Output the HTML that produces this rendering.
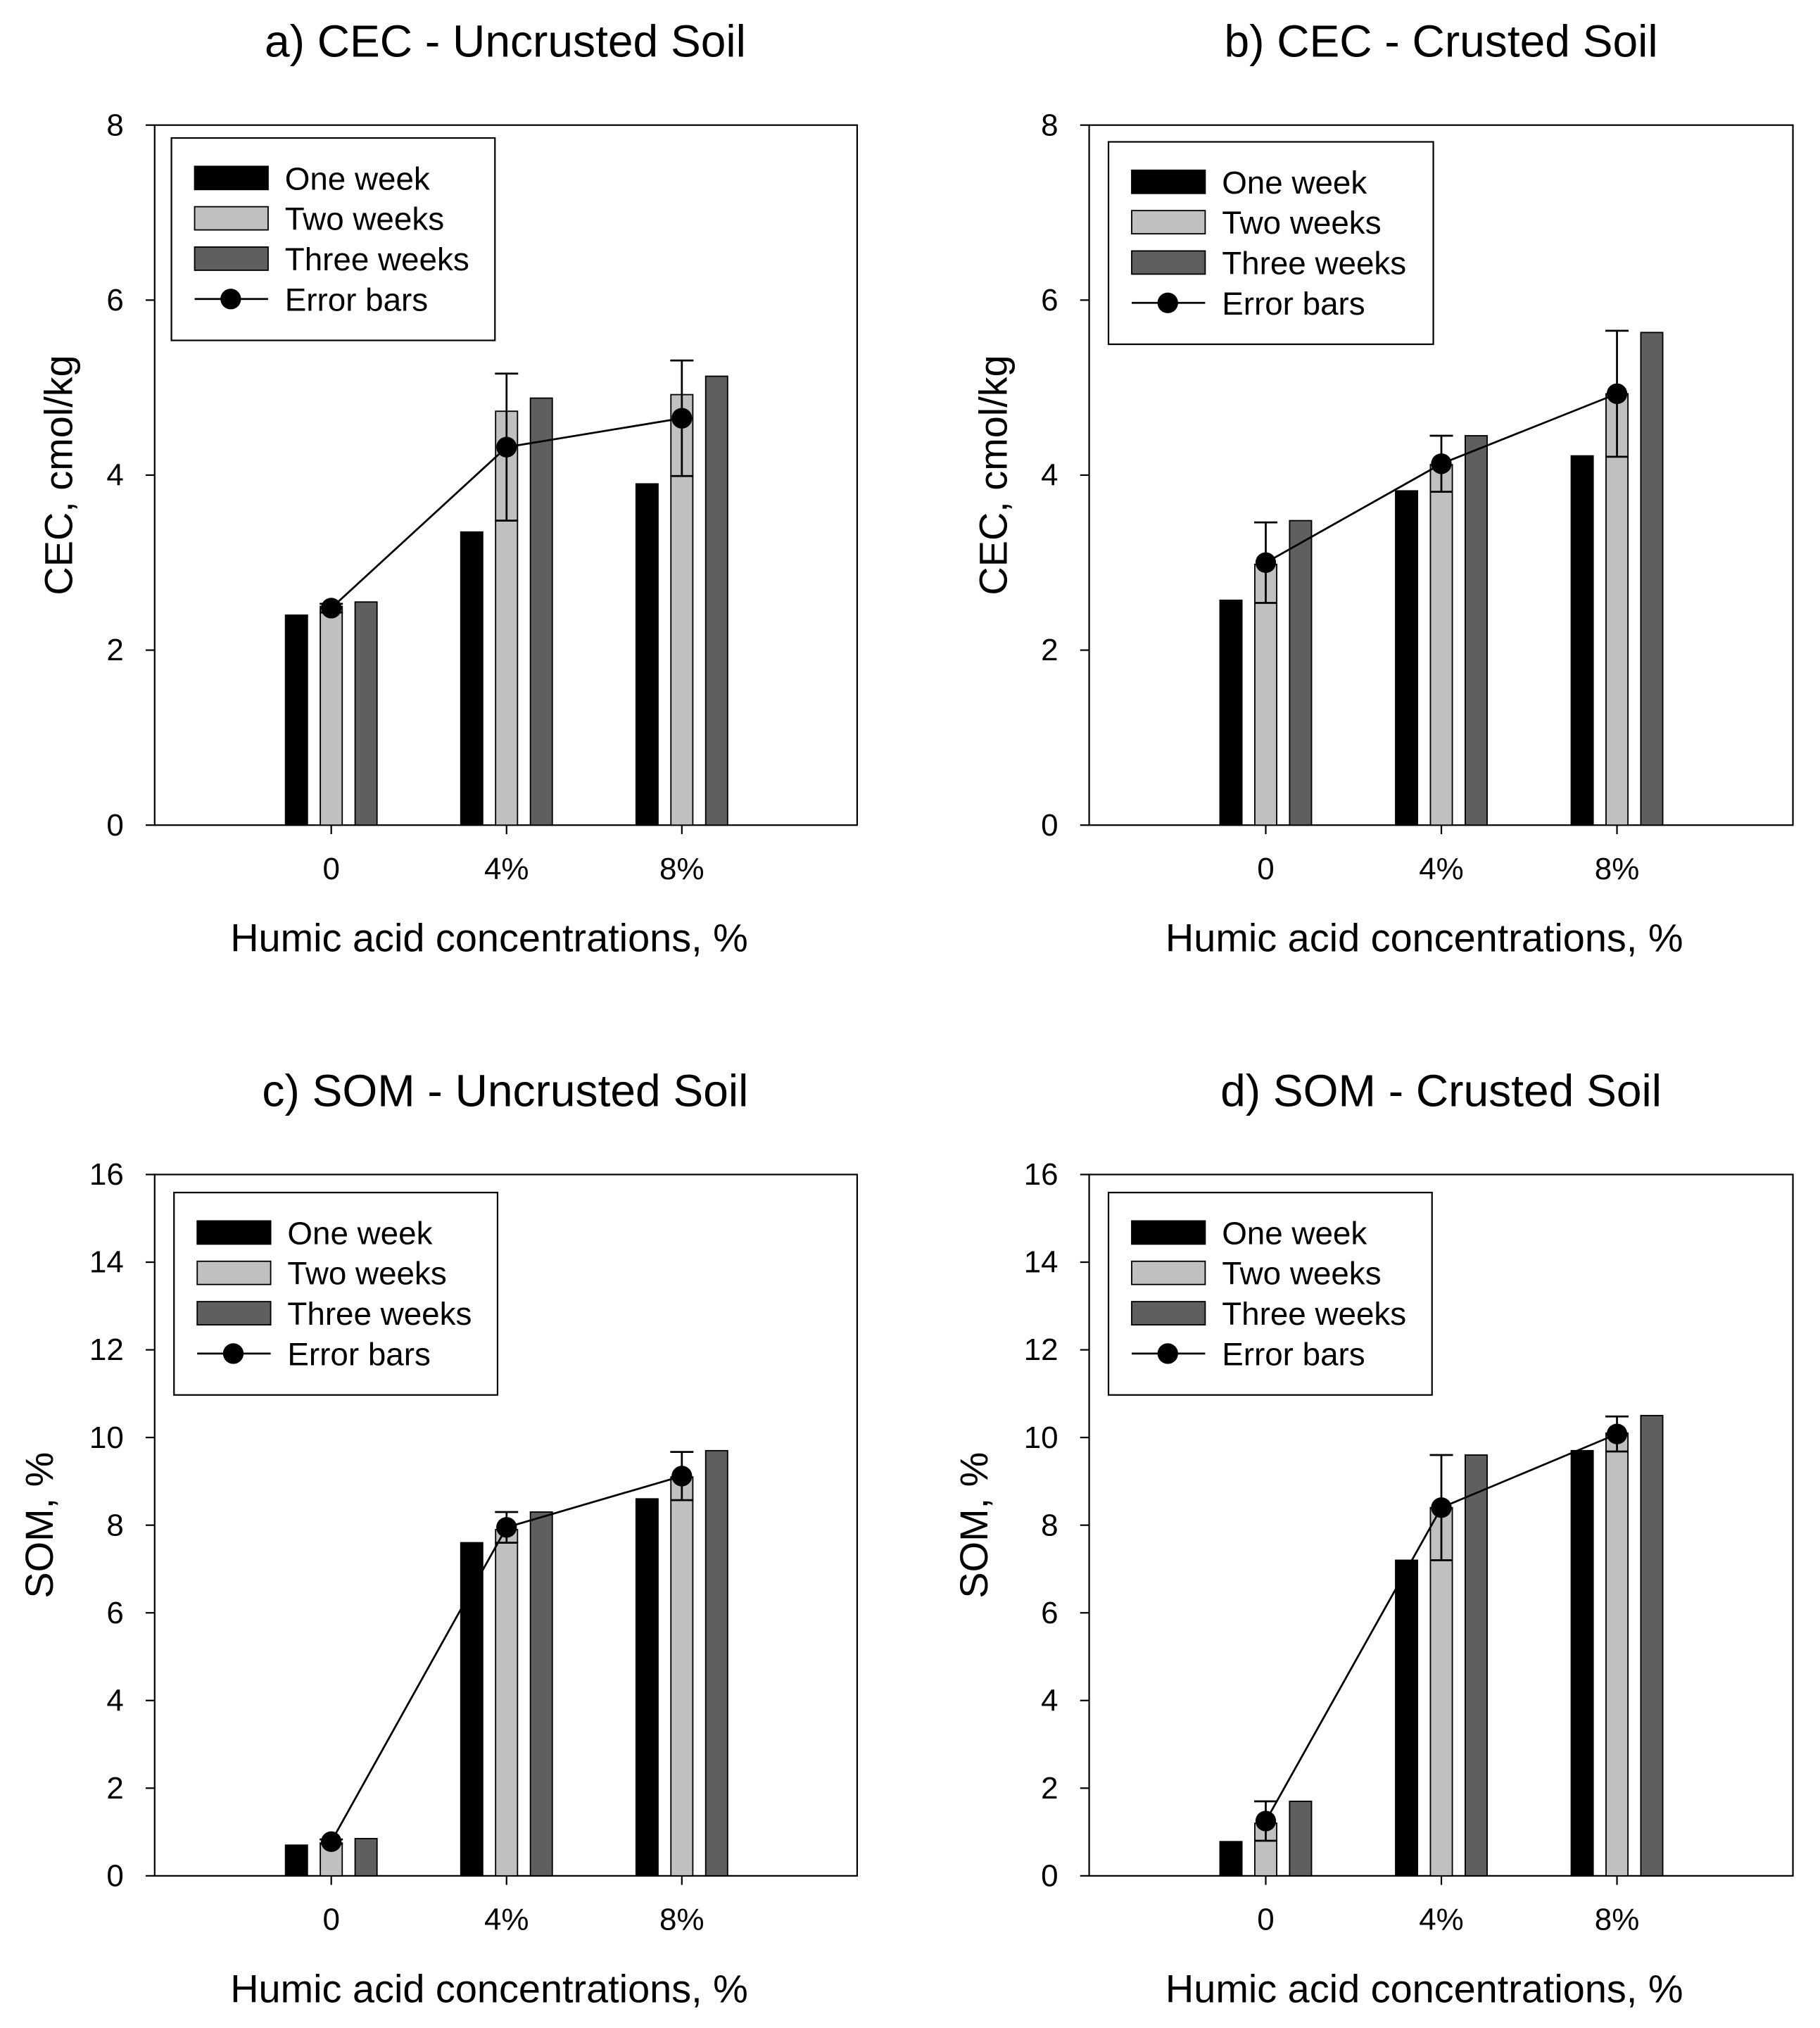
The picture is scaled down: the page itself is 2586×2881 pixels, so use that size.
<!DOCTYPE html>
<html><head><meta charset="utf-8">
<style>
html,body{margin:0;padding:0;background:#fff;}
svg{display:block;font-family:"Liberation Sans",Arial,sans-serif;}
</style></head>
<body>
<svg id="chart" width="2586" height="2881" viewBox="0 0 1412 1573" xmlns="http://www.w3.org/2000/svg"></svg>
<script>
const categories = ["0", "4%", "8%"];
const seriesNames = ["One week", "Two weeks", "Three weeks"];
const titles = ["a) CEC - Uncrusted Soil", "b) CEC - Crusted Soil", "c) SOM - Uncrusted Soil", "d) SOM - Crusted Soil"];
const yTitles = ["CEC, cmol/kg", "CEC, cmol/kg", "SOM, %", "SOM, %"];
const yTicksCEC = [0, 2, 4, 6, 8];
const yTicksSOM = [0, 2, 4, 6, 8, 10, 12, 14, 16];
// panel a
const aOne = [2.4, 3.35, 3.9];
const aTwo = [2.5, 4.73, 4.92];
const aThree = [2.55, 4.88, 5.13];
const aMean = [2.48, 4.32, 4.65];
const aErr = [0.05, 0.84, 0.66];
// panel b
const bOne = [2.57, 3.82, 4.22];
const bTwo = [2.98, 4.12, 4.93];
const bThree = [3.48, 4.45, 5.63];
const bMean = [3.0, 4.13, 4.93];
const bErr = [0.46, 0.32, 0.72];
// panel c
const cOne = [0.7, 7.6, 8.6];
const cTwo = [0.75, 7.9, 9.1];
const cThree = [0.85, 8.3, 9.7];
const cMean = [0.78, 7.95, 9.12];
const cErr = [0.05, 0.35, 0.55];
// panel d
const dOne = [0.78, 7.2, 9.7];
const dTwo = [1.2, 8.4, 10.1];
const dThree = [1.7, 9.6, 10.5];
const dMean = [1.25, 8.4, 10.08];
const dErr = [0.45, 1.2, 0.4];

const NS = "http://www.w3.org/2000/svg";
const svg = document.getElementById("chart");
const colors = ["#000000", "#c0c0c0", "#5f5f5f"];
function mk(tag, attrs, parent, text) {
  const e = document.createElementNS(NS, tag);
  for (const k in attrs) e.setAttribute(k, attrs[k]);
  if (text !== undefined) e.textContent = text;
  (parent || svg).appendChild(e);
  return e;
}
const panels = [
  {x0:120, x1:665, y0:97, y1:640, max:8, ticks:yTicksCEC, s:[aOne,aTwo,aThree], m:aMean, e:aErr, leg:[133,107,251,157], tx:392, ty:32, key:"a", yt:64},
  {x0:845, x1:1391, y0:97, y1:640, max:8, ticks:yTicksCEC, s:[bOne,bTwo,bThree], m:bMean, e:bErr, leg:[860,110,252,157], tx:1118, ty:32, key:"b", yt:64},
  {x0:120, x1:665, y0:911, y1:1455, max:16, ticks:yTicksSOM, s:[cOne,cTwo,cThree], m:cMean, e:cErr, leg:[135,925,251,157], tx:392, ty:846, key:"c", yt:79},
  {x0:845, x1:1391, y0:911, y1:1455, max:16, ticks:yTicksSOM, s:[dOne,dTwo,dThree], m:dMean, e:dErr, leg:[860,925,251,157], tx:1118, ty:846, key:"d", yt:79}
];
panels.forEach((p, pi) => {
  const g = mk("g", {});
  
  
  const yS = v => p.y1 - (v / p.max) * (p.y1 - p.y0);
  const step = 136 * (p.x1 - p.x0) / 545;
  const xC = i => p.x0 + 137 + i * step;
  const bw = 17, off = 27;
  const t = mk("text", {x:p.tx, y:p.ty+12, "text-anchor":"middle", "font-size":35}, g, titles[pi]);
  
  
  const fr = mk("rect", {x:p.x0, y:p.y0, width:p.x1-p.x0, height:p.y1-p.y0, fill:"none", stroke:"#000", "stroke-width":1.2}, g);
  
  
  p.ticks.forEach(v => {
    const y = yS(v);
    mk("line", {x1:p.x0-7, x2:p.x0, y1:y, y2:y, stroke:"#000", "stroke-width":1.2}, g);
    const tl = mk("text", {x:p.x0-24, y:y+8, "text-anchor":"end", "font-size":24}, g, String(v));
    
    
  });
  categories.forEach((c, i) => {
    mk("line", {x1:xC(i), x2:xC(i), y1:p.y1, y2:p.y1+7, stroke:"#000", "stroke-width":1.2}, g);
    const xl = mk("text", {x:xC(i), y:p.y1+42, "text-anchor":"middle", "font-size":24}, g, c);
    
    
  });
  const xt = mk("text", {x:(p.x0+p.x1)/2 - 13, y:p.y1+98, "text-anchor":"middle", "font-size":30.5}, g, "Humic acid concentrations, %");
  
  
  const yt = mk("text", {x:0, y:0, "text-anchor":"middle", "font-size":30.5, transform:`translate(${p.x0-p.yt},${(p.y0+p.y1)/2}) rotate(-90)`}, g, yTitles[pi]);
  
  
  p.s.forEach((arr, si) => {
    arr.forEach((v, i) => {
      const cx = xC(i) + (si - 1) * off;
      const b = mk("rect", {x:cx-bw/2, y:yS(v), width:bw, height:p.y1-yS(v), fill:colors[si], stroke:"#000", "stroke-width":1}, g);
      
      
    });
  });
  p.m.forEach((v, i) => {
    const x = xC(i);
    const top = yS(v + p.e[i]), bot = yS(v - p.e[i]);
    const eb = mk("path", {d:`M${x},${top}V${bot}M${x-9},${top}H${x+9}M${x-9},${bot}H${x+9}`, stroke:"#000", "stroke-width":1.5, fill:"none"}, g);
    
    
  });
  const line = mk("polyline", {points:p.m.map((v,i)=>xC(i)+","+yS(v)).join(" "), fill:"none", stroke:"#000", "stroke-width":1.5}, g);
  
  
  p.m.forEach((v, i) => {
    const c = mk("circle", {cx:xC(i), cy:yS(v), r:8, fill:"#000"}, g);
    
    
  });
  const [lx, ly, lw, lh] = p.leg;
  const lg = mk("g", {}, g);
  
  
  mk("rect", {x:lx, y:ly, width:lw, height:lh, fill:"#fff", stroke:"#000", "stroke-width":1.2}, lg);
  const labels = seriesNames.concat(["Error bars"]);
  labels.forEach((lab, k) => {
    const cy = ly + 31 + k * 31.3;
    const ent = mk("g", {}, lg);
    
    
    if (k < 3) {
      mk("rect", {x:lx+18, y:cy-9, width:57, height:18, fill:colors[k], stroke:"#000", "stroke-width":1}, ent);
    } else {
      mk("line", {x1:lx+18, x2:lx+75, y1:cy, y2:cy, stroke:"#000", "stroke-width":1.5}, ent);
      mk("circle", {cx:lx+46, cy:cy, r:8, fill:"#000"}, ent);
    }
    mk("text", {x:lx+88, y:cy+9, "font-size":25}, ent, lab);
  });
});
</script>
</body></html>
